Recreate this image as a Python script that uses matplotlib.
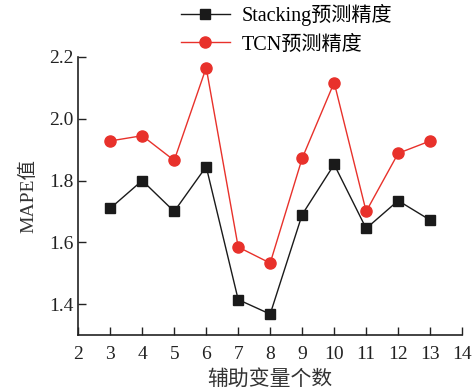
import matplotlib
matplotlib.use("Agg")
import matplotlib.pyplot as plt

plt.rcParams['font.family'] = ['Liberation Serif', 'Noto Sans CJK SC']

n_vars = [3, 4, 5, 6, 7, 8, 9, 10, 11, 12, 13]
stacking = [1.71, 1.80, 1.70, 1.845, 1.415, 1.368, 1.69, 1.852, 1.645, 1.735, 1.672]
tcn = [1.928, 1.945, 1.865, 2.165, 1.585, 1.533, 1.872, 2.117, 1.70, 1.888, 1.928]
x_ticks = list(range(2, 15))
y_ticks = [1.4, 1.6, 1.8, 2.0, 2.2]

fig = plt.figure(figsize=(4.74, 3.92), dpi=100)
ax = fig.add_axes([0.165, 0.145, 0.81, 0.71])

ax.plot(n_vars, stacking, color='#1a1a1a', marker='s', markersize=7, lw=1.0,
        label='Stacking预测精度')
ax.plot(n_vars, tcn, color='#e8312b', marker='o', markersize=8, lw=1.0,
        label='TCN预测精度')

ax.set_xlim(2, 14)
ax.set_ylim(1.3, 2.2)
ax.set_xticks(x_ticks)
ax.set_yticks(y_ticks)
ax.set_yticklabels([f"{v:.1f}" for v in y_ticks])
ax.tick_params(direction='in', length=6, width=1, labelsize=14, colors='#222222')
ax.tick_params(axis='x', pad=8)
for side in ['top', 'right']:
    ax.spines[side].set_visible(False)
for side in ['left', 'bottom']:
    ax.spines[side].set_linewidth(1.2)
    ax.spines[side].set_color('#222222')

ax.set_xlabel('辅助变量个数', fontsize=15, color='#333333', labelpad=5)
ax.set_ylabel('MAPE值', fontsize=14, color='#333333', labelpad=8)

ax.legend(loc='center', bbox_to_anchor=(0.605, 0.925), bbox_transform=fig.transFigure,
          frameon=False, fontsize=14.5, handlelength=2.4, handletextpad=0.6,
          labelspacing=0.45)

fig.savefig('out.png', dpi=100)
